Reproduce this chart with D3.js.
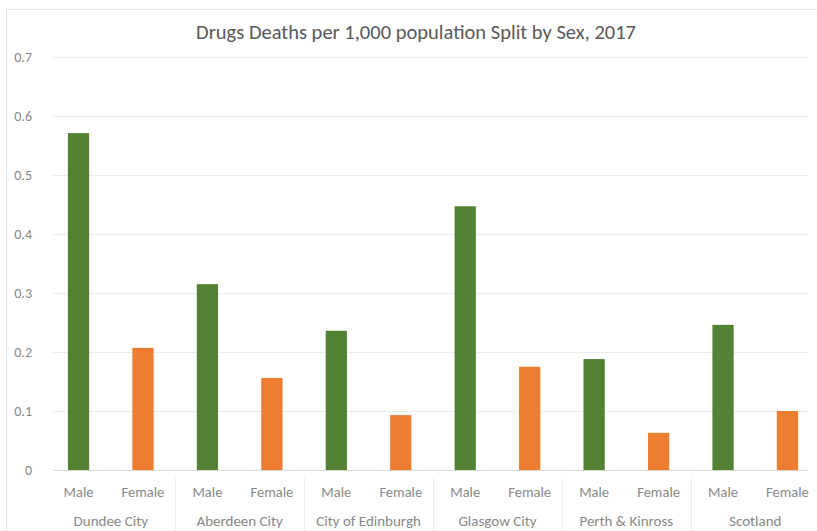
<!DOCTYPE html>
<html>
<head>
<meta charset="utf-8">
<script src="https://cdn.jsdelivr.net/npm/d3@7"></script>
<style>
  body { margin: 0; background: #fff; }
  svg { display: block; font-family: Calibri, Carlito, "Open Sans", sans-serif; }
</style>
</head>
<body>
<svg id="chart" width="817" height="531"></svg>
<script>
const groups = ['Dundee City', 'Aberdeen City', 'City of Edinburgh', 'Glasgow City', 'Perth & Kinross', 'Scotland'];
const sexes = ['Male', 'Female'];
const maleValues = [0.571, 0.315, 0.236, 0.447, 0.188, 0.246];
const femaleValues = [0.207, 0.156, 0.093, 0.175, 0.063, 0.100];
const yTicks = [0, 0.1, 0.2, 0.3, 0.4, 0.5, 0.6, 0.7];
const title = 'Drugs Deaths per 1,000 population Split by Sex, 2017';

const colors = { Male: '#548235', Female: '#ED7D31' };

const svg = d3.select('#chart');

// chart border
svg.append('rect')
  .attr('x', 6.5).attr('y', 9.5)
  .attr('width', 830).attr('height', 540)
  .attr('fill', 'none').attr('stroke', '#e3e3e3');

const plotTop = 57, plotBottom = 470;
const left = 46.3, right = 819.7;

const x0 = d3.scaleBand().domain(groups).range([left, right]);
const x1 = d3.scaleBand().domain(sexes).range([0, x0.bandwidth()]).paddingInner(0.67).paddingOuter(0.335);
const y = d3.scaleLinear().domain([0, 0.7]).range([plotBottom, plotTop]);

// gridlines
svg.append('g')
  .selectAll('line')
  .data(yTicks)
  .enter()
  .append('line')
  .attr('x1', 53).attr('x2', 808)
  .attr('y1', d => Math.round(y(d)) + 0.5)
  .attr('y2', d => Math.round(y(d)) + 0.5)
  .attr('stroke', d => d === 0 ? '#d9d9d9' : '#ececec');

// y labels
svg.append('g')
  .selectAll('text')
  .data(yTicks)
  .enter()
  .append('text')
  .attr('x', 32)
  .attr('y', d => y(d) + 5)
  .attr('text-anchor', 'end')
  .attr('font-size', 14)
  .attr('fill', '#888')
  .text(d => d3.format('.1~f')(d));

// bars
const rows = groups.map((g, i) => ({ group: g, Male: maleValues[i], Female: femaleValues[i] }));

const gGroups = svg.append('g')
  .selectAll('g')
  .data(rows)
  .enter()
  .append('g')
  .attr('transform', d => `translate(${x0(d.group)},0)`);

gGroups.selectAll('rect')
  .data(d => sexes.map(s => ({ sex: s, value: d[s] })))
  .enter()
  .append('rect')
  .attr('x', d => x1(d.sex))
  .attr('y', d => y(d.value))
  .attr('width', x1.bandwidth())
  .attr('height', d => plotBottom - y(d.value))
  .attr('fill', d => colors[d.sex]);

// sub-category labels
gGroups.selectAll('text.sub')
  .data(sexes)
  .enter()
  .append('text')
  .attr('class', 'sub')
  .attr('x', d => x1(d) + x1.bandwidth() / 2)
  .attr('y', 497)
  .attr('text-anchor', 'middle')
  .attr('font-size', 14.5)
  .attr('fill', '#888')
  .text(d => d);

// group labels
gGroups.append('text')
  .attr('x', x0.bandwidth() / 2)
  .attr('y', 526)
  .attr('text-anchor', 'middle')
  .attr('font-size', 15)
  .attr('fill', '#888')
  .text(d => d.group);

// group separators in axis area
svg.append('g')
  .selectAll('line')
  .data(groups.slice(1))
  .enter()
  .append('line')
  .attr('x1', d => Math.round(x0(d)) + 0.5)
  .attr('x2', d => Math.round(x0(d)) + 0.5)
  .attr('y1', 478).attr('y2', 531)
  .attr('stroke', '#ececec');

// title
svg.append('text')
  .attr('x', 416)
  .attr('y', 39)
  .attr('text-anchor', 'middle')
  .attr('font-size', 20.5)
  .attr('fill', '#595959')
  .text(title);
</script>
</body>
</html>
